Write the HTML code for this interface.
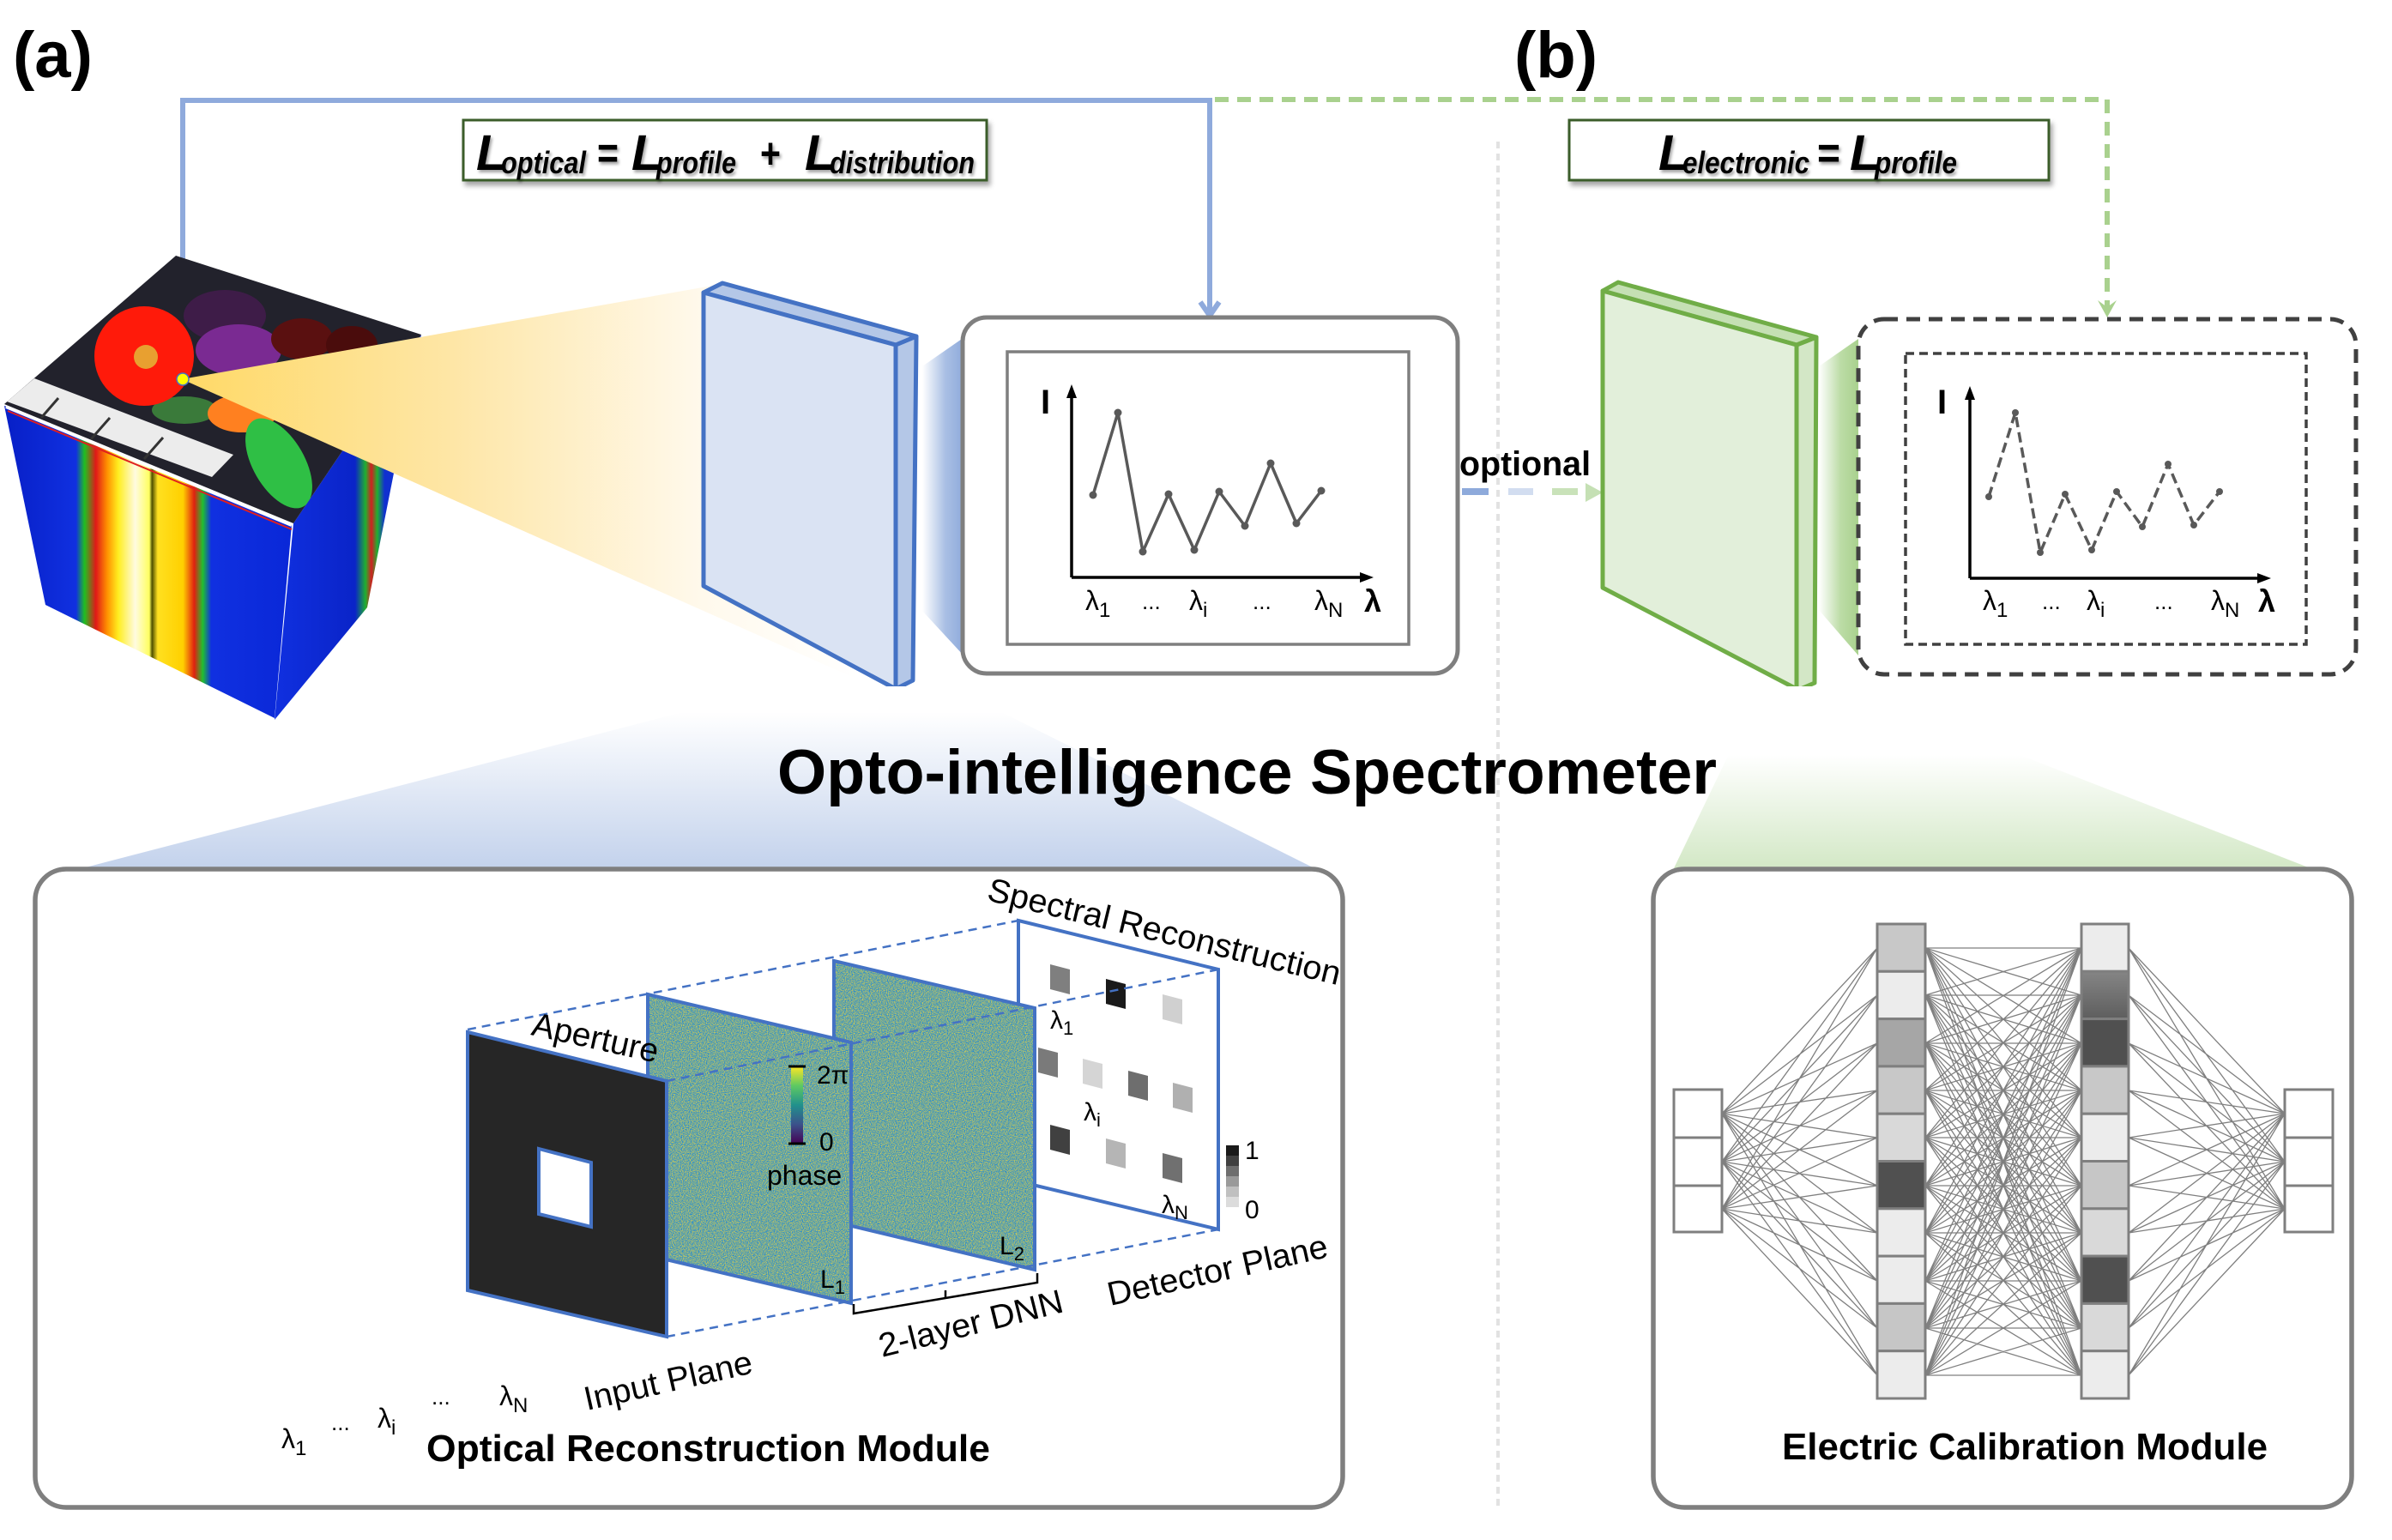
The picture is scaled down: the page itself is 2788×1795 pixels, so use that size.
<!DOCTYPE html>
<html><head><meta charset="utf-8"><style>
html,body{margin:0;padding:0;background:#fff;}
svg{display:block;}
text{font-family:"Liberation Sans",Arial,sans-serif;}
</style></head><body>
<svg width="2788" height="1795" viewBox="0 0 2788 1795" xmlns="http://www.w3.org/2000/svg">
<defs>
 <linearGradient id="cone" gradientUnits="userSpaceOnUse" x1="212" y1="0" x2="1000" y2="0">
  <stop offset="0" stop-color="#ffd966"/><stop offset="0.4" stop-color="#fee6a6"/><stop offset="0.77" stop-color="#fff9ec"/><stop offset="1" stop-color="#ffffff"/>
 </linearGradient>
 <linearGradient id="beamB" x1="0" y1="0" x2="1" y2="0"><stop offset="0" stop-color="#ffffff"/><stop offset="0.55" stop-color="#a9bfe4"/><stop offset="1" stop-color="#8eaadb"/></linearGradient>
 <linearGradient id="beamG" x1="0" y1="0" x2="1" y2="0"><stop offset="0" stop-color="#ffffff"/><stop offset="0.55" stop-color="#bcdca6"/><stop offset="1" stop-color="#a9d18e"/></linearGradient>
 <linearGradient id="wedgeB" gradientUnits="userSpaceOnUse" x1="0" y1="830" x2="0" y2="1012"><stop offset="0" stop-color="#ffffff"/><stop offset="1" stop-color="#c3d2ec"/></linearGradient>
 <linearGradient id="wedgeG" gradientUnits="userSpaceOnUse" x1="0" y1="880" x2="0" y2="1012"><stop offset="0" stop-color="#ffffff"/><stop offset="1" stop-color="#d3e8c6"/></linearGradient>
 <linearGradient id="jet" gradientUnits="userSpaceOnUse" x1="10" y1="0" x2="338" y2="0">
  <stop offset="0" stop-color="#0820c8"/><stop offset="0.24" stop-color="#1030e0"/><stop offset="0.27" stop-color="#20c020"/>
  <stop offset="0.31" stop-color="#e01818"/><stop offset="0.35" stop-color="#ff9000"/><stop offset="0.39" stop-color="#ffee20"/>
  <stop offset="0.45" stop-color="#fffbe0"/><stop offset="0.50" stop-color="#ffff60"/><stop offset="0.51" stop-color="#505000"/>
  <stop offset="0.53" stop-color="#ffe020"/><stop offset="0.62" stop-color="#ffd000"/><stop offset="0.66" stop-color="#e02010"/>
  <stop offset="0.69" stop-color="#20c030"/><stop offset="0.72" stop-color="#1030e0"/><stop offset="1" stop-color="#0a28d8"/>
 </linearGradient>
 <linearGradient id="jetR" gradientUnits="userSpaceOnUse" x1="320" y1="0" x2="491" y2="0">
  <stop offset="0" stop-color="#1030e0"/><stop offset="0.55" stop-color="#0a24c8"/><stop offset="0.62" stop-color="#20b030"/>
  <stop offset="0.66" stop-color="#d02020"/><stop offset="0.70" stop-color="#20b030"/><stop offset="0.75" stop-color="#1030d0"/><stop offset="1" stop-color="#1030d0"/>
 </linearGradient>
 <linearGradient id="vir" x1="0" y1="0" x2="0" y2="1">
  <stop offset="0" stop-color="#fde725"/><stop offset="0.25" stop-color="#5ec962"/><stop offset="0.5" stop-color="#21918c"/><stop offset="0.75" stop-color="#3b528b"/><stop offset="1" stop-color="#440154"/>
 </linearGradient>
 <linearGradient id="h2g" x1="0" y1="0" x2="0" y2="1"><stop offset="0" stop-color="#858585"/><stop offset="1" stop-color="#5e5e5e"/></linearGradient>
 <filter id="ds" x="-5%" y="-20%" width="110%" height="150%"><feDropShadow dx="3" dy="5" stdDeviation="3" flood-color="#000" flood-opacity="0.35"/></filter>
 <filter id="ts" x="-10%" y="-20%" width="120%" height="150%"><feDropShadow dx="2" dy="3" stdDeviation="1.5" flood-color="#000" flood-opacity="0.35"/></filter>
 <filter id="nz" x="0" y="0" width="1" height="1" color-interpolation-filters="sRGB"><feTurbulence type="fractalNoise" baseFrequency="0.9" numOctaves="1" seed="3"/><feColorMatrix type="matrix" values="1.6 0 0 0 -0.35  0.6 0 0 0 0.36  -1.2 0 0 0 1.2  0 0 0 0 1"/><feComposite in2="SourceGraphic" operator="in"/></filter>
 <clipPath id="topface"><polygon points="5,471 205,298 491,390 342,610"/></clipPath>
</defs>

<!-- divider -->
<line x1="1746" y1="165" x2="1746" y2="1760" stroke="#e2e2e2" stroke-width="4" stroke-dasharray="8 6"/>

<!-- labels -->
<text x="15" y="90" font-size="76" font-weight="bold">(a)</text>
<text x="1765" y="90" font-size="76" font-weight="bold">(b)</text>

<!-- feedback lines -->
<polyline points="213,432 213,117 1410,117 1410,364" fill="none" stroke="#8faadc" stroke-width="6"/>
<polyline points="202,420 213,436 224,420" fill="none" stroke="#8faadc" stroke-width="6"/>
<polyline points="1399,352 1410,368 1421,352" fill="none" stroke="#8faadc" stroke-width="6"/>
<polyline points="1416,116 2456,116 2456,362" fill="none" stroke="#a9d18e" stroke-width="6" stroke-dasharray="16 10"/>
<polygon points="2445,350 2456,370 2467,350 2456,358" fill="#a9d18e"/>

<!-- formula boxes -->
<rect x="540" y="140" width="610" height="70" fill="#fff" stroke="#3a5d2a" stroke-width="3" filter="url(#ds)"/>
<g filter="url(#ts)" font-weight="bold" font-style="italic" fill="#000">
 <text x="555" y="198" font-size="58">L</text>
 <text x="584" y="202" font-size="36" textLength="99" lengthAdjust="spacingAndGlyphs">optical</text>
 <text x="696" y="196" font-size="52" font-style="normal" textLength="25" lengthAdjust="spacingAndGlyphs">=</text>
 <text x="736" y="198" font-size="58">L</text>
 <text x="765" y="202" font-size="36" textLength="93" lengthAdjust="spacingAndGlyphs">profile</text>
 <text x="886" y="196" font-size="50" font-style="normal" textLength="24" lengthAdjust="spacingAndGlyphs">+</text>
 <text x="938" y="198" font-size="58">L</text>
 <text x="967" y="202" font-size="36" textLength="169" lengthAdjust="spacingAndGlyphs">distribution</text>
</g>
<rect x="1829" y="140" width="559" height="70" fill="#fff" stroke="#3a5d2a" stroke-width="3" filter="url(#ds)"/>
<g filter="url(#ts)" font-weight="bold" font-style="italic" fill="#000">
 <text x="1933" y="198" font-size="58">L</text>
 <text x="1961" y="202" font-size="36" textLength="148" lengthAdjust="spacingAndGlyphs">electronic</text>
 <text x="2118" y="196" font-size="52" font-style="normal" textLength="27" lengthAdjust="spacingAndGlyphs">=</text>
 <text x="2156" y="198" font-size="58">L</text>
 <text x="2185" y="202" font-size="36" textLength="96" lengthAdjust="spacingAndGlyphs">profile</text>
</g>

<!-- cube -->
<polygon points="5,473 340,612 320,837 53,705" fill="url(#jet)"/>
<polygon points="342,610 491,390 428,708 320,839" fill="url(#jetR)"/>
<line x1="7" y1="474" x2="340" y2="612" stroke="#ffffff" stroke-width="4"/>
<line x1="9" y1="479" x2="340" y2="617" stroke="#e02020" stroke-width="2"/>
<polygon points="5,471 205,298 491,390 342,610" fill="#22222c"/>
<g clip-path="url(#topface)">
 <ellipse cx="262" cy="368" rx="48" ry="30" fill="#3e1c48"/>
 <ellipse cx="278" cy="408" rx="50" ry="30" fill="#7a2a92"/>
 <ellipse cx="352" cy="395" rx="36" ry="24" fill="#5a1010"/>
 <ellipse cx="410" cy="402" rx="30" ry="22" fill="#4a0c0c"/>
 <ellipse cx="215" cy="478" rx="38" ry="16" fill="#3a7a3a"/>
 <ellipse cx="282" cy="482" rx="40" ry="22" fill="#ff8020"/>
 <ellipse cx="325" cy="540" rx="30" ry="58" transform="rotate(-30 325 540)" fill="#2fbf45"/>
 <circle cx="168" cy="415" r="58" fill="#ff1a0a"/>
 <circle cx="170" cy="416" r="14" fill="#e8a030"/>
 <polygon points="8,468 40,441 272,530 247,556" fill="#ececec"/>
 <line x1="68" y1="464" x2="48" y2="487" stroke="#333" stroke-width="3"/>
 <line x1="128" y1="487" x2="106" y2="512" stroke="#333" stroke-width="3"/>
 <line x1="190" y1="510" x2="168" y2="535" stroke="#333" stroke-width="3"/>
</g>

<!-- cone -->
<polygon points="212,442 830,333 1000,792" fill="url(#cone)"/>
<circle cx="213" cy="442" r="7" fill="#ffff00" stroke="#4472c4" stroke-width="1.5"/>

<!-- blue plate -->
<polygon points="1044,402 1068,392 1064,793 1044,803" fill="#b4c7e7" stroke="#4472c4" stroke-width="5" stroke-linejoin="round"/>
<polygon points="820,341 842,330 1068,392 1044,402" fill="#b4c7e7" stroke="#4472c4" stroke-width="5" stroke-linejoin="round"/>
<polygon points="820,341 1044,402 1044,803 820,683" fill="#dae3f3" stroke="#4472c4" stroke-width="5" stroke-linejoin="round"/>
<polygon points="1075,427 1124,393 1124,765 1075,712" fill="url(#beamB)"/>

<!-- chart 1 -->
<rect x="1122" y="370" width="577" height="415" rx="28" fill="#fff" stroke="#7f7f7f" stroke-width="5"/>
<rect x="1174" y="410" width="468" height="341" fill="none" stroke="#7f7f7f" stroke-width="3.5"/>
<line x1="1249" y1="673" x2="1249" y2="460" stroke="#000" stroke-width="3.5"/>
<polygon points="1249,448 1243,464 1255,464" fill="#000"/>
<line x1="1249" y1="673" x2="1590" y2="673" stroke="#000" stroke-width="3.5"/>
<polygon points="1601,673 1585,667 1585,679" fill="#000"/>
<text x="1213" y="482" font-size="40" font-weight="bold">I</text>
<polyline points="1274,577 1303,481 1332,643 1362,576 1392,641 1421,573 1451,613 1481,540 1511,610 1540,572" fill="none" stroke="#595959" stroke-width="3.5" stroke-linejoin="round"/>
<g fill="#595959">
 <circle cx="1274" cy="577" r="4.5"/><circle cx="1303" cy="481" r="4.5"/><circle cx="1332" cy="643" r="4.5"/><circle cx="1362" cy="576" r="4.5"/><circle cx="1392" cy="641" r="4.5"/>
 <circle cx="1421" cy="573" r="4.5"/><circle cx="1451" cy="613" r="4.5"/><circle cx="1481" cy="540" r="4.5"/><circle cx="1511" cy="610" r="4.5"/><circle cx="1540" cy="572" r="4.5"/>
</g>
<g font-size="32">
 <text x="1265" y="711">λ<tspan font-size="24" dy="8">1</tspan></text>
 <text x="1331" y="710" font-size="26">...</text>
 <text x="1386" y="711">λ<tspan font-size="24" dy="8">i</tspan></text>
 <text x="1460" y="710" font-size="26">...</text>
 <text x="1532" y="711">λ<tspan font-size="24" dy="8">N</tspan></text>
 <text x="1590" y="713" font-size="36" font-weight="bold">λ</text>
</g>

<!-- optional -->
<text x="1701" y="554" font-size="40" font-weight="bold" textLength="153" lengthAdjust="spacingAndGlyphs">optional</text>
<rect x="1704" y="569" width="31" height="8" fill="#8eaadb"/>
<rect x="1758" y="569" width="29" height="8" fill="#d2ddf0"/>
<rect x="1809" y="569" width="30" height="8" fill="#c9e2b9"/>
<polygon points="1848,563 1868,574 1848,585" fill="#c5e0b4"/>

<!-- green plate -->
<polygon points="2094,402 2117,393 2115,796 2094,805" fill="#d3e7c6" stroke="#70ad47" stroke-width="5" stroke-linejoin="round"/>
<polygon points="1868,339 1886,329 2117,393 2094,402" fill="#c5e0b4" stroke="#70ad47" stroke-width="5" stroke-linejoin="round"/>
<polygon points="1868,339 2094,402 2094,803 1868,685" fill="#e2efda" stroke="#70ad47" stroke-width="5" stroke-linejoin="round"/>
<polygon points="2120,427 2166,395 2166,764 2120,711" fill="url(#beamG)"/>

<!-- chart 2 -->
<rect x="2166" y="372" width="580" height="414" rx="30" fill="#fff" stroke="#404040" stroke-width="5" stroke-dasharray="16 10"/>
<rect x="2221" y="412" width="467" height="339" fill="none" stroke="#404040" stroke-width="3.5" stroke-dasharray="10 6"/>
<line x1="2296" y1="674" x2="2296" y2="462" stroke="#000" stroke-width="3.5"/>
<polygon points="2296,450 2290,466 2302,466" fill="#000"/>
<line x1="2296" y1="674" x2="2636" y2="674" stroke="#000" stroke-width="3.5"/>
<polygon points="2647,674 2631,668 2631,680" fill="#000"/>
<text x="2258" y="482" font-size="40" font-weight="bold">I</text>
<polyline points="2318,579 2349,481 2378,644 2407,576 2438,641 2467,573 2497,614 2527,541 2557,612 2587,573" fill="none" stroke="#595959" stroke-width="3.5" stroke-dasharray="12 6"/>
<g fill="#595959">
 <circle cx="2318" cy="579" r="4"/><circle cx="2349" cy="481" r="4"/><circle cx="2378" cy="644" r="4"/><circle cx="2407" cy="576" r="4"/><circle cx="2438" cy="641" r="4"/>
 <circle cx="2467" cy="573" r="4"/><circle cx="2497" cy="614" r="4"/><circle cx="2527" cy="541" r="4"/><circle cx="2557" cy="612" r="4"/><circle cx="2587" cy="573" r="4"/>
</g>
<g font-size="32">
 <text x="2311" y="711">λ<tspan font-size="24" dy="8">1</tspan></text>
 <text x="2380" y="710" font-size="26">...</text>
 <text x="2432" y="711">λ<tspan font-size="24" dy="8">i</tspan></text>
 <text x="2511" y="710" font-size="26">...</text>
 <text x="2577" y="711">λ<tspan font-size="24" dy="8">N</tspan></text>
 <text x="2632" y="713" font-size="36" font-weight="bold">λ</text>
</g>

<!-- wedges -->
<polygon points="96,1012 911,800 1107,800 1532,1012" fill="url(#wedgeB)"/>
<polygon points="1951,1012 2053,800 2149,800 2693,1012" fill="url(#wedgeG)"/>

<!-- title -->
<text x="906" y="925" font-size="73" font-weight="bold" textLength="1095" lengthAdjust="spacingAndGlyphs">Opto-intelligence Spectrometer</text>

<!-- bottom boxes -->
<rect x="41" y="1013" width="1524" height="744" rx="36" fill="#fff" stroke="#7f7f7f" stroke-width="5.5"/>
<rect x="1927" y="1013" width="814" height="744" rx="36" fill="#fff" stroke="#7f7f7f" stroke-width="5.5"/>

<!-- optical module -->
<polygon points="1187,1073 1420,1130 1420,1433 1187,1377" fill="#fff" stroke="#4472c4" stroke-width="4"/>
<g>
 <polygon points="1224,1124 1247,1130 1247,1159 1224,1153" fill="#7f7f7f"/>
 <polygon points="1289,1141 1312,1147 1312,1176 1289,1170" fill="#1a1a1a"/>
 <polygon points="1355,1159 1378,1165 1378,1194 1355,1188" fill="#d0d0d0"/>
 <polygon points="1210,1221 1233,1227 1233,1256 1210,1250" fill="#7a7a7a"/>
 <polygon points="1262,1234 1285,1240 1285,1269 1262,1263" fill="#d5d5d5"/>
 <polygon points="1315,1248 1338,1254 1338,1283 1315,1277" fill="#6e6e6e"/>
 <polygon points="1367,1262 1390,1268 1390,1297 1367,1291" fill="#b0b0b0"/>
 <polygon points="1224,1311 1247,1317 1247,1346 1224,1340" fill="#404040"/>
 <polygon points="1289,1327 1312,1333 1312,1362 1289,1356" fill="#b5b5b5"/>
 <polygon points="1355,1344 1378,1350 1378,1379 1355,1373" fill="#707070"/>
</g>
<g font-size="30">
 <text x="1224" y="1199">λ<tspan font-size="22" dy="7">1</tspan></text>
 <text x="1263" y="1306">λ<tspan font-size="22" dy="7">i</tspan></text>
 <text x="1354" y="1414">λ<tspan font-size="22" dy="7">N</tspan></text>
</g>
<rect x="1429" y="1335" width="15" height="12" fill="#1a1a1a"/>
<rect x="1429" y="1347" width="15" height="12" fill="#404040"/>
<rect x="1429" y="1359" width="15" height="12" fill="#6e6e6e"/>
<rect x="1429" y="1371" width="15" height="12" fill="#9a9a9a"/>
<rect x="1429" y="1383" width="15" height="12" fill="#c0c0c0"/>
<rect x="1429" y="1395" width="15" height="12" fill="#dcdcdc"/>
<text x="1451" y="1351" font-size="30">1</text>
<text x="1451" y="1420" font-size="30">0</text>

<polygon points="972,1120 1206,1175 1206,1480 972,1424" fill="#6fa89a"/>
<polygon points="972,1120 1206,1175 1206,1480 972,1424" fill="#6fa89a" filter="url(#nz)"/>
<polygon points="972,1120 1206,1175 1206,1480 972,1424" fill="none" stroke="#4472c4" stroke-width="4"/>
<polygon points="755,1159 992,1215 992,1519 755,1463" fill="#6fa89a"/>
<polygon points="755,1159 992,1215 992,1519 755,1463" fill="#6fa89a" filter="url(#nz)"/>
<polygon points="755,1159 992,1215 992,1519 755,1463" fill="none" stroke="#4472c4" stroke-width="4"/>
<polygon points="545,1203 777,1260 777,1558 545,1504" fill="#262626" stroke="#4472c4" stroke-width="4"/>
<polygon points="628,1339 689,1355 689,1430 628,1415" fill="#fff" stroke="#4472c4" stroke-width="4"/>

<rect x="922" y="1243" width="14" height="90" fill="url(#vir)"/>
<line x1="919" y1="1243" x2="939" y2="1243" stroke="#000" stroke-width="3"/>
<line x1="919" y1="1333" x2="939" y2="1333" stroke="#000" stroke-width="3"/>
<text x="952" y="1263" font-size="30">2π</text>
<text x="955" y="1341" font-size="30">0</text>
<text x="894" y="1381" font-size="32">phase</text>
<text x="956" y="1501" font-size="30">L<tspan font-size="22" dy="7">1</tspan></text>
<text x="1165" y="1462" font-size="30">L<tspan font-size="22" dy="7">2</tspan></text>

<g stroke="#4472c4" stroke-width="2.5" stroke-dasharray="10 7" fill="none">
 <line x1="545" y1="1200" x2="1187" y2="1073"/>
 <line x1="777" y1="1260" x2="1420" y2="1130"/>
 <line x1="777" y1="1558" x2="1420" y2="1433"/>
</g>
<polyline points="995,1520 995,1531 1209,1495 1209,1484" fill="none" stroke="#000" stroke-width="2.5"/>
<line x1="1102" y1="1513" x2="1102" y2="1504" stroke="#000" stroke-width="2.5"/>

<g font-size="39">
 <text x="618" y="1206" transform="rotate(12.6 618 1206)" textLength="150" lengthAdjust="spacingAndGlyphs">Aperture</text>
 <text x="684" y="1644" transform="rotate(-12.7 684 1644)" textLength="200" lengthAdjust="spacingAndGlyphs">Input Plane</text>
 <text x="1028" y="1582" transform="rotate(-14 1028 1582)" textLength="220" lengthAdjust="spacingAndGlyphs">2-layer DNN</text>
 <text x="1294" y="1522" transform="rotate(-12.6 1294 1522)" textLength="262" lengthAdjust="spacingAndGlyphs">Detector Plane</text>
 <text x="1149" y="1049" transform="rotate(13.6 1149 1049)" textLength="422" lengthAdjust="spacingAndGlyphs">Spectral Reconstruction</text>
</g>
<g font-size="32">
 <text x="328" y="1688">λ<tspan font-size="24" dy="8">1</tspan></text>
 <text x="386" y="1667" font-size="26">...</text>
 <text x="440" y="1664">λ<tspan font-size="24" dy="8">i</tspan></text>
 <text x="503" y="1637" font-size="26">...</text>
 <text x="582" y="1638">λ<tspan font-size="24" dy="8">N</tspan></text>
</g>
<text x="497" y="1703" font-size="44" font-weight="bold" textLength="657" lengthAdjust="spacingAndGlyphs">Optical Reconstruction Module</text>

<!-- neural net -->
<g stroke="#7f7f7f" stroke-width="1.3" fill="none">
<path d="M2007 1298L2188 1105M2007 1298L2188 1160M2007 1298L2188 1216M2007 1298L2188 1271M2007 1298L2188 1326M2007 1298L2188 1382M2007 1298L2188 1437M2007 1298L2188 1493M2007 1298L2188 1548M2007 1298L2188 1603M2007 1354L2188 1105M2007 1354L2188 1160M2007 1354L2188 1216M2007 1354L2188 1271M2007 1354L2188 1326M2007 1354L2188 1382M2007 1354L2188 1437M2007 1354L2188 1493M2007 1354L2188 1548M2007 1354L2188 1603M2007 1409L2188 1105M2007 1409L2188 1160M2007 1409L2188 1216M2007 1409L2188 1271M2007 1409L2188 1326M2007 1409L2188 1382M2007 1409L2188 1437M2007 1409L2188 1493M2007 1409L2188 1548M2007 1409L2188 1603"/>
<path d="M2663 1298L2481 1105M2663 1298L2481 1160M2663 1298L2481 1216M2663 1298L2481 1271M2663 1298L2481 1326M2663 1298L2481 1382M2663 1298L2481 1437M2663 1298L2481 1493M2663 1298L2481 1548M2663 1298L2481 1603M2663 1354L2481 1105M2663 1354L2481 1160M2663 1354L2481 1216M2663 1354L2481 1271M2663 1354L2481 1326M2663 1354L2481 1382M2663 1354L2481 1437M2663 1354L2481 1493M2663 1354L2481 1548M2663 1354L2481 1603M2663 1409L2481 1105M2663 1409L2481 1160M2663 1409L2481 1216M2663 1409L2481 1271M2663 1409L2481 1326M2663 1409L2481 1382M2663 1409L2481 1437M2663 1409L2481 1493M2663 1409L2481 1548M2663 1409L2481 1603"/>
<path d="M2244 1105L2426 1105M2244 1105L2426 1160M2244 1105L2426 1216M2244 1105L2426 1271M2244 1105L2426 1326M2244 1105L2426 1382M2244 1105L2426 1437M2244 1105L2426 1493M2244 1105L2426 1548M2244 1105L2426 1603
M2244 1160L2426 1105M2244 1160L2426 1160M2244 1160L2426 1216M2244 1160L2426 1271M2244 1160L2426 1326M2244 1160L2426 1382M2244 1160L2426 1437M2244 1160L2426 1493M2244 1160L2426 1548M2244 1160L2426 1603
M2244 1216L2426 1105M2244 1216L2426 1160M2244 1216L2426 1216M2244 1216L2426 1271M2244 1216L2426 1326M2244 1216L2426 1382M2244 1216L2426 1437M2244 1216L2426 1493M2244 1216L2426 1548M2244 1216L2426 1603
M2244 1271L2426 1105M2244 1271L2426 1160M2244 1271L2426 1216M2244 1271L2426 1271M2244 1271L2426 1326M2244 1271L2426 1382M2244 1271L2426 1437M2244 1271L2426 1493M2244 1271L2426 1548M2244 1271L2426 1603
M2244 1326L2426 1105M2244 1326L2426 1160M2244 1326L2426 1216M2244 1326L2426 1271M2244 1326L2426 1326M2244 1326L2426 1382M2244 1326L2426 1437M2244 1326L2426 1493M2244 1326L2426 1548M2244 1326L2426 1603
M2244 1382L2426 1105M2244 1382L2426 1160M2244 1382L2426 1216M2244 1382L2426 1271M2244 1382L2426 1326M2244 1382L2426 1382M2244 1382L2426 1437M2244 1382L2426 1493M2244 1382L2426 1548M2244 1382L2426 1603
M2244 1437L2426 1105M2244 1437L2426 1160M2244 1437L2426 1216M2244 1437L2426 1271M2244 1437L2426 1326M2244 1437L2426 1382M2244 1437L2426 1437M2244 1437L2426 1493M2244 1437L2426 1548M2244 1437L2426 1603
M2244 1493L2426 1105M2244 1493L2426 1160M2244 1493L2426 1216M2244 1493L2426 1271M2244 1493L2426 1326M2244 1493L2426 1382M2244 1493L2426 1437M2244 1493L2426 1493M2244 1493L2426 1548M2244 1493L2426 1603
M2244 1548L2426 1105M2244 1548L2426 1160M2244 1548L2426 1216M2244 1548L2426 1271M2244 1548L2426 1326M2244 1548L2426 1382M2244 1548L2426 1437M2244 1548L2426 1493M2244 1548L2426 1548M2244 1548L2426 1603
M2244 1603L2426 1105M2244 1603L2426 1160M2244 1603L2426 1216M2244 1603L2426 1271M2244 1603L2426 1326M2244 1603L2426 1382M2244 1603L2426 1437M2244 1603L2426 1493M2244 1603L2426 1548M2244 1603L2426 1603"/>
</g>
<g stroke="#7f7f7f" stroke-width="3">
 <rect x="1951" y="1270" width="56" height="56" fill="#fff"/>
 <rect x="1951" y="1326" width="56" height="56" fill="#fff"/>
 <rect x="1951" y="1382" width="56" height="54" fill="#fff"/>
 <rect x="2663" y="1270" width="56" height="56" fill="#fff"/>
 <rect x="2663" y="1326" width="56" height="56" fill="#fff"/>
 <rect x="2663" y="1382" width="56" height="54" fill="#fff"/>

 <rect x="2188" y="1077" width="56" height="55.3" fill="#c8c8c8"/>
 <rect x="2188" y="1132.3" width="56" height="55.3" fill="#ececec"/>
 <rect x="2188" y="1187.6" width="56" height="55.3" fill="#a6a6a6"/>
 <rect x="2188" y="1242.9" width="56" height="55.3" fill="#c8c8c8"/>
 <rect x="2188" y="1298.2" width="56" height="55.3" fill="#d9d9d9"/>
 <rect x="2188" y="1353.5" width="56" height="55.3" fill="#505050"/>
 <rect x="2188" y="1408.8" width="56" height="55.3" fill="#ececec"/>
 <rect x="2188" y="1464.1" width="56" height="55.3" fill="#ececec"/>
 <rect x="2188" y="1519.4" width="56" height="55.3" fill="#c6c6c6"/>
 <rect x="2188" y="1574.7" width="56" height="55.3" fill="#ececec"/>

 <rect x="2426" y="1077" width="55" height="55.3" fill="#ececec"/>
 <rect x="2426" y="1132.3" width="55" height="55.3" fill="url(#h2g)"/>
 <rect x="2426" y="1187.6" width="55" height="55.3" fill="#505050"/>
 <rect x="2426" y="1242.9" width="55" height="55.3" fill="#c8c8c8"/>
 <rect x="2426" y="1298.2" width="55" height="55.3" fill="#ececec"/>
 <rect x="2426" y="1353.5" width="55" height="55.3" fill="#c6c6c6"/>
 <rect x="2426" y="1408.8" width="55" height="55.3" fill="#d9d9d9"/>
 <rect x="2426" y="1464.1" width="55" height="55.3" fill="#505050"/>
 <rect x="2426" y="1519.4" width="55" height="55.3" fill="#d9d9d9"/>
 <rect x="2426" y="1574.7" width="55" height="55.3" fill="#ececec"/>
</g>
<text x="2077" y="1701" font-size="44" font-weight="bold" textLength="566" lengthAdjust="spacingAndGlyphs">Electric Calibration Module</text>
</svg>
</body></html>
